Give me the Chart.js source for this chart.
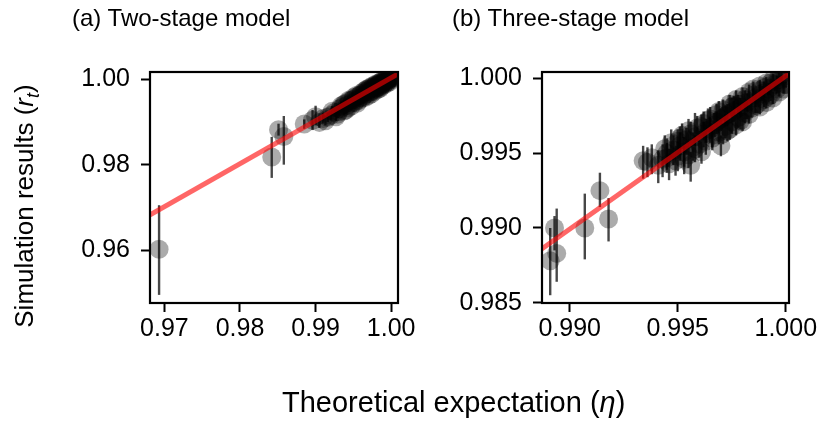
<!DOCTYPE html>
<html>
<head>
<meta charset="utf-8">
<script src="https://cdn.jsdelivr.net/npm/chart.js@4.4.1/dist/chart.umd.min.js"></script>
<style>
    body { margin: 0; background: #fff; font-family: "Liberation Sans", Arial, sans-serif; }
    #page { position: relative; width: 820px; height: 422px; overflow: hidden; }
    .panel { position: absolute; top: 0; height: 422px; }
    .lbl { position: absolute; color: #000; white-space: nowrap; }
    .title { font-size: 24px; line-height: 24px; top: 6px; }
    #xTitle { font-size: 29px; line-height: 29px; left: 282px; top: 388px; }
    #yTitle { font-size: 26px; line-height: 30px; width: 300px; height: 30px; text-align: center;
              left: 24px; top: 206px; transform: translate(-50%, -50%) rotate(-90deg); }
</style>
</head>
<body>
<div id="page">
    <div class="panel" id="wrapA" style="left:0;width:440px;"><canvas id="chartA" width="440" height="422"></canvas></div>
    <div class="panel" id="wrapB" style="left:410px;width:410px;"><canvas id="chartB" width="410" height="422"></canvas></div>
    <div class="lbl title" style="left:72px;">(a) Two-stage model</div>
    <div class="lbl title" style="left:452px;">(b) Three-stage model</div>
    <div class="lbl" id="xTitle">Theoretical expectation (<i>η</i>)</div>
    <div class="lbl" id="yTitle">Simulation results (<i>r<sub style="font-size:18px">t</sub></i>)</div>
</div>
<script>
// panel (a): two-stage model
const aX  = [0.9693, 0.9842, 0.9851, 0.9858, 0.9885, 0.9896, 0.9900, 0.9905, 0.9910, 0.9913,
             0.9916, 0.9920, 0.9925, 0.9929, 0.9932, 0.9936, 0.9939, 0.9940, 0.9942, 0.9945,
             0.9948, 0.9951, 0.9953, 0.9955, 0.9956, 0.9958, 0.9961, 0.9963, 0.9965, 0.9967,
             0.9969, 0.9970, 0.9971, 0.9973, 0.9975, 0.9977, 0.9979, 0.9981, 0.9983, 0.9985,
             0.9985, 0.9987, 0.9989, 0.9991, 0.9993, 0.9995, 0.9997, 0.9999, 1.0000,
             0.9922, 0.9927, 0.9934, 0.9938, 0.9944, 0.9947, 0.9950, 0.9954, 0.9957, 0.9960,
             0.9964, 0.9966, 0.9968, 0.9972, 0.9974, 0.9976, 0.9978, 0.9980, 0.9982, 0.9984,
             0.9986, 0.9988, 0.9990, 0.9992, 0.9994, 0.9996, 0.9998, 1.0000, 1.0003,
             0.9931, 0.9937, 0.9943, 0.9949, 0.9952, 0.9959, 0.9962, 0.9966, 0.9970, 0.9973,
             0.9976, 0.9979, 0.9981, 0.9983, 0.9986, 0.9988, 0.9990, 0.9993, 0.9995, 0.9997,
             0.9999, 1.0002];
const aY  = [0.9602, 0.9818, 0.9882, 0.9866, 0.9895, 0.9904, 0.9912, 0.9899, 0.9908, 0.9903,
             0.9911, 0.9915, 0.9922, 0.9918, 0.9931, 0.9935, 0.9943, 0.9928, 0.9939, 0.9949,
             0.9945, 0.9954, 0.9950, 0.9944, 0.9960, 0.9956, 0.9964, 0.9960, 0.9969, 0.9966,
             0.9973, 0.9962, 0.9970, 0.9977, 0.9974, 0.9981, 0.9978, 0.9985, 0.9982, 0.9978,
             0.9989, 0.9986, 0.9992, 0.9990, 0.9996, 0.9994, 1.0000, 0.9998, 1.0002,
             0.9925, 0.9912, 0.9938, 0.9926, 0.9951, 0.9937, 0.9957, 0.9962, 0.9950, 0.9967,
             0.9972, 0.9958, 0.9977, 0.9981, 0.9966, 0.9985, 0.9972, 0.9989, 0.9976, 0.9992,
             0.9982, 0.9996, 0.9986, 0.9999, 0.9990, 1.0003, 0.9994, 1.0006, 1.0004,
             0.9924, 0.9941, 0.9933, 0.9952, 0.9946, 0.9963, 0.9956, 0.9974, 0.9978, 0.9970,
             0.9982, 0.9986, 0.9980, 0.9989, 0.9993, 0.9988, 0.9996, 1.0000, 0.9997, 1.0004,
             1.0002, 1.0008];
const aLo = [0.9495, 0.9769, 0.9868, 0.9800, 0.9884, 0.9881, 0.9893, 0.9886, 0.9896, 0.9892,
             0.9900, 0.9905, 0.9912, 0.9909, 0.9922, 0.9926, 0.9935, 0.9920, 0.9931, 0.9941,
             0.9937, 0.9947, 0.9943, 0.9937, 0.9953, 0.9949, 0.9958, 0.9954, 0.9963, 0.9960,
             0.9967, 0.9957, 0.9965, 0.9972, 0.9969, 0.9976, 0.9973, 0.9981, 0.9978, 0.9974,
             0.9985, 0.9982, 0.9989, 0.9987, 0.9993, 0.9991, 0.9997, 0.9996, 1.0000,
             0.9913, 0.9902, 0.9928, 0.9917, 0.9943, 0.9929, 0.9950, 0.9955, 0.9943, 0.9961,
             0.9966, 0.9952, 0.9971, 0.9976, 0.9961, 0.9980, 0.9967, 0.9985, 0.9972, 0.9988,
             0.9978, 0.9993, 0.9983, 0.9996, 0.9987, 1.0000, 0.9992, 1.0004, 1.0002,
             0.9915, 0.9932, 0.9925, 0.9944, 0.9939, 0.9956, 0.9950, 0.9968, 0.9972, 0.9965,
             0.9977, 0.9981, 0.9976, 0.9985, 0.9989, 0.9985, 0.9993, 0.9997, 0.9994, 1.0001,
             1.0000, 1.0006];
const aHi = [0.9705, 0.9865, 0.9896, 0.9914, 0.9906, 0.9928, 0.9938, 0.9913, 0.9921, 0.9915,
             0.9922, 0.9925, 0.9932, 0.9927, 0.9940, 0.9944, 0.9951, 0.9936, 0.9947, 0.9957,
             0.9953, 0.9961, 0.9957, 0.9951, 0.9967, 0.9963, 0.9970, 0.9966, 0.9975, 0.9972,
             0.9979, 0.9967, 0.9975, 0.9982, 0.9979, 0.9986, 0.9983, 0.9989, 0.9986, 0.9982,
             0.9993, 0.9990, 0.9995, 0.9993, 0.9999, 0.9997, 1.0003, 1.0000, 1.0004,
             0.9937, 0.9922, 0.9948, 0.9935, 0.9959, 0.9945, 0.9964, 0.9969, 0.9957, 0.9973,
             0.9978, 0.9964, 0.9983, 0.9986, 0.9971, 0.9990, 0.9977, 0.9993, 0.9980, 0.9996,
             0.9986, 0.9999, 0.9989, 1.0002, 0.9993, 1.0006, 0.9996, 1.0008, 1.0006,
             0.9933, 0.9950, 0.9941, 0.9960, 0.9953, 0.9970, 0.9962, 0.9980, 0.9984, 0.9975,
             0.9987, 0.9991, 0.9984, 0.9993, 0.9997, 0.9991, 0.9999, 1.0003, 1.0000, 1.0007,
             1.0004, 1.0010];
const aLineX = [0.9600, 1.0100];
const aLineY = [0.9601, 1.0104];
const aTicksX = [0.97, 0.98, 0.99, 1.00];
const aTicksY = [0.96, 0.98, 1.00];

// panel (b): three-stage model
const bX  = [0.9891, 0.9893, 0.9894, 0.9907, 0.9914, 0.9918, 0.9934, 0.9936, 0.9938, 0.9941,
             0.9943, 0.9945, 0.9946, 0.9948, 0.9950, 0.9950, 0.9951, 0.9953, 0.9954, 0.9956,
             0.9957, 0.9958, 0.9960, 0.9962, 0.9962, 0.9963, 0.9965, 0.9967, 0.9969, 0.9970,
             0.9970, 0.9972, 0.9973, 0.9975, 0.9976, 0.9976, 0.9978, 0.9979, 0.9980, 0.9981,
             0.9982, 0.9984, 0.9986, 0.9987, 0.9989, 0.9990, 0.9992, 0.9993, 0.9995, 0.9996,
             0.9998, 0.9999, 1.0000,
             0.9944, 0.9947, 0.9949, 0.9952, 0.9955, 0.9955, 0.9959, 0.9961, 0.9964, 0.9966,
             0.9968, 0.9971, 0.9971, 0.9974, 0.9974, 0.9977, 0.9977, 0.9980, 0.9983, 0.9983,
             0.9985, 0.9988, 0.9988, 0.9991, 0.9991, 0.9994, 0.9994, 0.9997, 0.9997, 1.0000,
             0.9945, 0.9951, 0.9953, 0.9956, 0.9958, 0.9961, 0.9963, 0.9965, 0.9966, 0.9968,
             0.9969, 0.9972, 0.9973, 0.9975, 0.9978, 0.9979, 0.9981, 0.9982, 0.9985, 0.9986,
             0.9988, 0.9990, 0.9992, 0.9993, 0.9996, 0.9998, 0.9999];
const bY  = [0.9878, 0.9900, 0.9883, 0.9900, 0.9925, 0.9906, 0.9945, 0.9944, 0.9947, 0.9942,
             0.9946, 0.9950, 0.9943, 0.9952, 0.9948, 0.9958, 0.9955, 0.9951, 0.9959, 0.9942,
             0.9954, 0.9961, 0.9956, 0.9963, 0.9970, 0.9958, 0.9966, 0.9969, 0.9964, 0.9955,
             0.9973, 0.9968, 0.9976, 0.9971, 0.9982, 0.9978, 0.9974, 0.9981, 0.9971, 0.9977,
             0.9984, 0.9980, 0.9987, 0.9983, 0.9990, 0.9986, 0.9993, 0.9989, 0.9996, 0.9993,
             0.9999, 0.9996, 1.0002,
             0.9953, 0.9957, 0.9945, 0.9962, 0.9965, 0.9949, 0.9967, 0.9951, 0.9972, 0.9960,
             0.9976, 0.9979, 0.9963, 0.9983, 0.9966, 0.9986, 0.9969, 0.9988, 0.9991, 0.9976,
             0.9993, 0.9995, 0.9981, 0.9997, 0.9984, 0.9999, 0.9987, 1.0001, 0.9991, 0.9996,
             0.9947, 0.9960, 0.9946, 0.9963, 0.9953, 0.9968, 0.9965, 0.9973, 0.9962, 0.9971,
             0.9978, 0.9975, 0.9965, 0.9981, 0.9983, 0.9972, 0.9986, 0.9979, 0.9989, 0.9982,
             0.9992, 0.9994, 0.9988, 0.9997, 0.9999, 1.0003, 0.9993];
const bLo = [0.9855, 0.9885, 0.9864, 0.9879, 0.9914, 0.9891, 0.9933, 0.9934, 0.9936, 0.9930,
             0.9934, 0.9939, 0.9932, 0.9942, 0.9938, 0.9949, 0.9945, 0.9941, 0.9949, 0.9931,
             0.9945, 0.9955, 0.9947, 0.9954, 0.9962, 0.9949, 0.9957, 0.9961, 0.9956, 0.9948,
             0.9965, 0.9960, 0.9968, 0.9963, 0.9975, 0.9971, 0.9967, 0.9974, 0.9965, 0.9970,
             0.9978, 0.9974, 0.9981, 0.9977, 0.9985, 0.9981, 0.9989, 0.9985, 0.9992, 0.9990,
             0.9996, 0.9994, 1.0000,
             0.9943, 0.9947, 0.9935, 0.9953, 0.9956, 0.9940, 0.9958, 0.9943, 0.9964, 0.9952,
             0.9968, 0.9972, 0.9956, 0.9976, 0.9959, 0.9979, 0.9962, 0.9982, 0.9985, 0.9970,
             0.9988, 0.9990, 0.9976, 0.9993, 0.9980, 0.9996, 0.9983, 0.9998, 0.9988, 0.9994,
             0.9937, 0.9951, 0.9936, 0.9954, 0.9944, 0.9960, 0.9957, 0.9965, 0.9954, 0.9963,
             0.9971, 0.9968, 0.9958, 0.9974, 0.9976, 0.9966, 0.9980, 0.9973, 0.9984, 0.9977,
             0.9987, 0.9990, 0.9984, 0.9993, 0.9996, 1.0000, 0.9990];
const bHi = [0.9900, 0.9908, 0.9913, 0.9923, 0.9937, 0.9920, 0.9955, 0.9954, 0.9956, 0.9952,
             0.9956, 0.9960, 0.9953, 0.9962, 0.9958, 0.9966, 0.9964, 0.9961, 0.9967, 0.9951,
             0.9964, 0.9977, 0.9965, 0.9971, 0.9978, 0.9967, 0.9974, 0.9977, 0.9972, 0.9962,
             0.9980, 0.9976, 0.9983, 0.9978, 0.9988, 0.9985, 0.9981, 0.9987, 0.9977, 0.9984,
             0.9990, 0.9986, 0.9992, 0.9989, 0.9995, 0.9991, 0.9997, 0.9993, 0.9999, 0.9996,
             1.0002, 0.9998, 1.0004,
             0.9962, 0.9966, 0.9955, 0.9970, 0.9973, 0.9958, 0.9975, 0.9960, 0.9980, 0.9968,
             0.9983, 0.9986, 0.9970, 0.9989, 0.9973, 0.9992, 0.9976, 0.9994, 0.9996, 0.9982,
             0.9998, 0.9999, 0.9986, 1.0001, 0.9988, 1.0003, 0.9991, 1.0004, 0.9994, 0.9998,
             0.9957, 0.9968, 0.9955, 0.9971, 0.9962, 0.9976, 0.9973, 0.9981, 0.9970, 0.9978,
             0.9985, 0.9982, 0.9972, 0.9987, 0.9989, 0.9978, 0.9992, 0.9985, 0.9994, 0.9987,
             0.9996, 0.9998, 0.9992, 1.0000, 1.0002, 1.0005, 0.9996];
const bLineX = [0.9850, 1.0050];
const bLineY = [0.9848, 1.0053];
const bTicksX = [0.990, 0.995, 1.000];
const bTicksY = [0.985, 0.990, 0.995, 1.000];

const FONT = '"Liberation Sans", Arial, sans-serif';

// vertical error bars, drawn under the dots
const errorBarPlugin = {
    id: 'errorBars',
    beforeDatasetsDraw: function(chart) {
        const ctx = chart.ctx;
        const xs = chart.scales.x, ys = chart.scales.y;
        const area = chart.chartArea;
        ctx.save();
        ctx.beginPath();
        ctx.rect(area.left, area.top, area.right - area.left, area.bottom - area.top);
        ctx.clip();
        ctx.strokeStyle = 'rgba(0,0,0,0.72)';
        ctx.lineWidth = 2.4;
        chart.data.datasets.forEach(ds => {
            if (!ds.lo) return;
            ds.data.forEach((p, i) => {
                const px = xs.getPixelForValue(p.x);
                ctx.beginPath();
                ctx.moveTo(px, ys.getPixelForValue(ds.lo[i]));
                ctx.lineTo(px, ys.getPixelForValue(ds.hi[i]));
                ctx.stroke();
            });
        });
        ctx.restore();
    }
};

// full box round the plot area
const boxPlugin = {
    id: 'plotBox',
    afterDraw: function(chart) {
        const a = chart.chartArea, ctx = chart.ctx;
        ctx.save();
        ctx.strokeStyle = '#000';
        ctx.lineWidth = 2.2;
        ctx.strokeRect(a.left, a.top, a.right - a.left, a.bottom - a.top);
        ctx.restore();
    }
};

const Panels = {
    build: function(canvasId, cfg) {
        const pts = cfg.x.map((v, i) => ({ x: v, y: cfg.y[i] }));
        const fit = cfg.lineX.map((v, i) => ({ x: v, y: cfg.lineY[i] }));
        const axis = (ticks, digits, min, max, isY) => ({
            type: 'linear',
            min: min,
            max: max,
            afterBuildTicks: s => { s.ticks = ticks.map(v => ({ value: v })); },
            afterFit: s => {
                if (isY) s.width = cfg.yAxisWidth; else s.height = 119;
            },
            ticks: {
                color: '#000',
                font: { family: FONT, size: 25 },
                padding: isY ? 11 : 2,
                maxRotation: 0,
                autoSkip: false,
                callback: v => Number(v).toFixed(digits)
            },
            grid: {
                drawOnChartArea: false,
                drawTicks: true,
                tickLength: 9,
                tickWidth: 2,
                tickColor: '#000'
            },
            border: { display: false }
        });

        return new Chart(document.getElementById(canvasId), {
            type: 'scatter',
            data: {
                datasets: [
                    {
                        // regression line sits on top
                        data: fit,
                        showLine: true,
                        borderColor: 'rgba(255,0,0,0.6)',
                        borderWidth: 5,
                        pointRadius: 0,
                        fill: false
                    },
                    {
                        data: pts,
                        lo: cfg.lo,
                        hi: cfg.hi,
                        pointRadius: 9.5,
                        pointBorderWidth: 0,
                        backgroundColor: 'rgba(0,0,0,0.33)',
                        borderColor: 'rgba(0,0,0,0)'
                    }
                ]
            },
            options: {
                responsive: false,
                animation: false,
                layout: { padding: { top: 72, right: cfg.padRight, left: 0, bottom: 0 } },
                plugins: { legend: { display: false }, tooltip: { enabled: false } },
                scales: {
                    x: axis(cfg.ticksX, cfg.digits, cfg.xMin, cfg.xMax, false),
                    y: axis(cfg.ticksY, cfg.digits, cfg.yMin, cfg.yMax, true)
                }
            },
            plugins: [errorBarPlugin, boxPlugin]
        });
    },

    init: function() {
        this.build('chartA', {
            x: aX, y: aY, lo: aLo, hi: aHi, lineX: aLineX, lineY: aLineY,
            ticksX: aTicksX, ticksY: aTicksY, digits: 2,
            xMin: 0.9681, xMax: 1.0009, yMin: 0.9476, yMax: 1.0017,
            yAxisWidth: 150, padRight: 42
        });
        this.build('chartB', {
            x: bX, y: bY, lo: bLo, hi: bHi, lineX: bLineX, lineY: bLineY,
            ticksX: bTicksX, ticksY: bTicksY, digits: 3,
            xMin: 0.98872, xMax: 1.00015, yMin: 0.98498, yMax: 1.00044,
            yAxisWidth: 132, padRight: 31
        });
    }
};

Panels.init();
</script>
</body>
</html>
